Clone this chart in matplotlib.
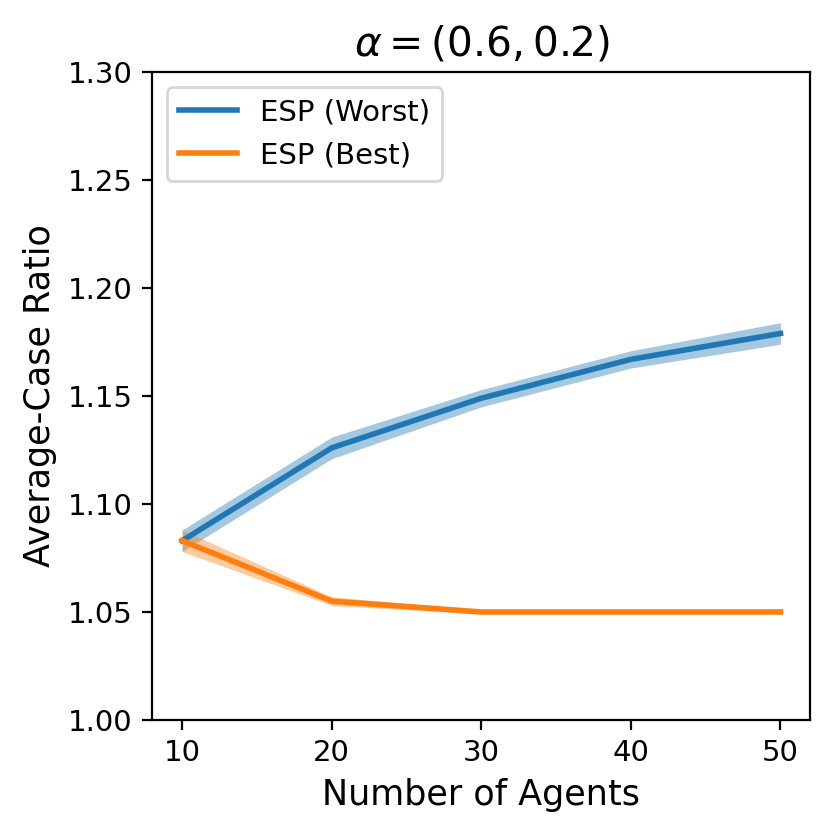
import numpy as np
import matplotlib.pyplot as plt

# 数据
agents = [10, 20, 30, 40, 50]
worst_mean = [1.083, 1.126, 1.149, 1.167, 1.179]
worst_err = [0.005, 0.005, 0.004, 0.004, 0.005]
best_mean = [1.083, 1.055, 1.050, 1.050, 1.050]
best_err = [0.005, 0.002, 0.001, 0.001, 0.001]

fig, ax = plt.subplots(figsize=(4.16, 4.2), dpi=200)

wm = np.array(worst_mean)
we = np.array(worst_err)
bm = np.array(best_mean)
be = np.array(best_err)

ax.plot(agents, wm, color="tab:blue", lw=2, label="ESP (Worst)")
ax.fill_between(agents, wm - we, wm + we, color="tab:blue", alpha=0.4, lw=0)
ax.plot(agents, bm, color="tab:orange", lw=2, label="ESP (Best)")
ax.fill_between(agents, bm - be, bm + be, color="tab:orange", alpha=0.4, lw=0)

ax.set_ylim(1.0, 1.3)
ax.set_xticks(agents)
ax.tick_params(labelsize=10.5)
ax.set_xlabel("Number of Agents", fontsize=12.6)
ax.set_ylabel("Average-Case Ratio", fontsize=12.6)
ax.set_title(r"$\alpha = (0.6, 0.2)$", fontsize=14.7)
ax.legend(loc="upper left", fontsize=10.5)

plt.subplots_adjust(left=0.183, right=0.974, top=0.914, bottom=0.143)
plt.savefig("out.png", dpi=200)
